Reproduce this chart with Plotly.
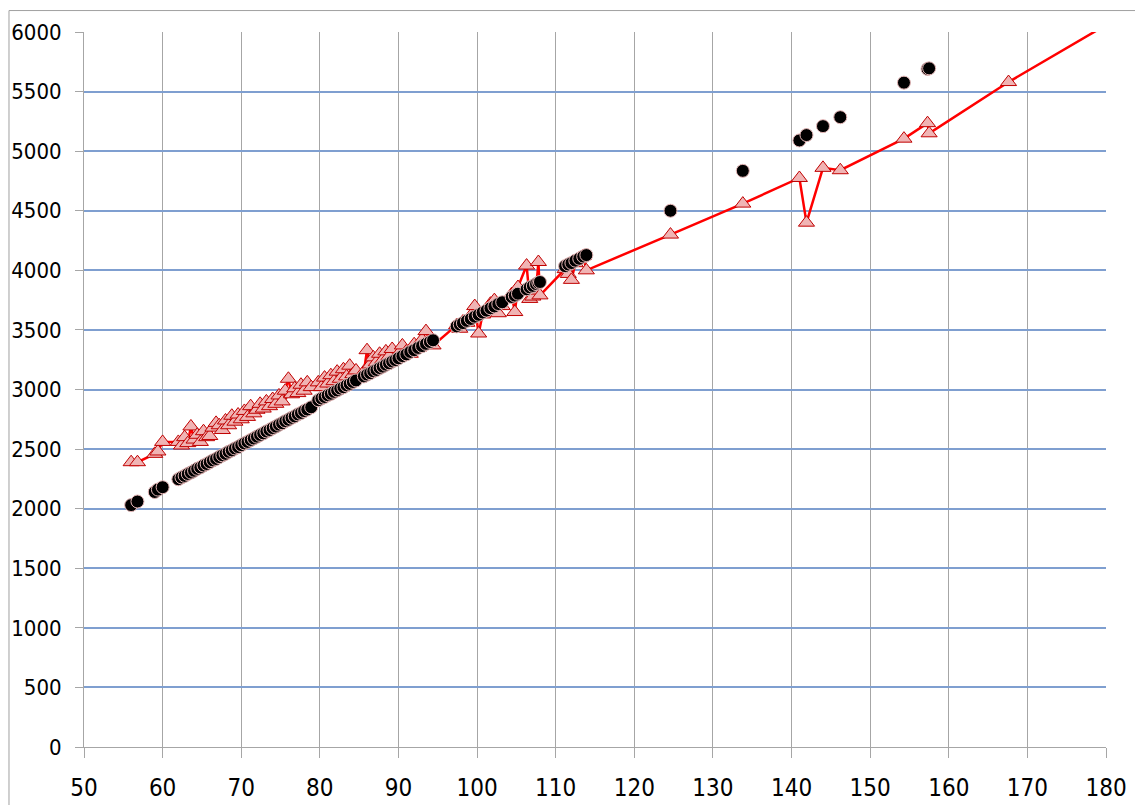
import plotly.graph_objects as go

# Shared x values for both series
x_vals = [
    56.0, 56.8, 59.0, 59.4, 60.0,
    62.0, 62.4, 62.8, 63.2, 63.6, 64.0, 64.4, 64.8, 65.2, 65.6, 66.0, 66.4, 66.8, 67.2, 67.6,
    68.0, 68.4, 68.8, 69.2, 69.6, 70.0, 70.4, 70.8, 71.2, 71.6, 72.0, 72.4, 72.8, 73.2, 73.6,
    74.0, 74.4, 74.8, 75.2, 75.6, 76.0, 76.4, 76.8, 77.2, 77.6, 78.0, 78.4, 78.9,
    79.8, 80.2, 80.6, 81.0, 81.4, 81.8, 82.2, 82.6, 83.0, 83.4, 83.8, 84.2, 84.6,
    85.6, 86.0, 86.4, 86.8, 87.2, 87.6, 88.0, 88.4, 88.8, 89.2, 89.6, 90.0, 90.5, 91.0,
    91.5, 92.0, 92.5, 93.0, 93.5, 94.0, 94.4,
    97.4, 97.8, 98.2, 98.7, 99.2, 99.7, 100.2, 100.7, 101.2, 101.7, 102.2, 102.7, 103.2,
    104.4, 104.8, 105.2, 106.3, 106.7, 107.1, 107.5, 107.8, 108.0,
    111.2, 111.6, 112.0, 112.5, 113.0, 113.5, 113.9,
    124.6, 133.8, 141.0, 141.9, 144.0, 146.2, 154.3, 157.3, 157.5, 167.6, 186.0,
]

# Black circle series
circle_vals = [
    2030, 2060, 2140, 2160, 2180,
    2247, 2262, 2275, 2291, 2303, 2318, 2334, 2346, 2362, 2375, 2390, 2405, 2417, 2433, 2448,
    2460, 2477, 2489, 2505, 2517, 2533, 2548, 2560, 2576, 2589, 2604, 2619, 2632, 2648, 2660,
    2676, 2689, 2705, 2717, 2734, 2746, 2762, 2774, 2791, 2803, 2819, 2832, 2851,
    2910, 2925, 2937, 2952, 2964, 2980, 2992, 3008, 3019, 3035, 3047, 3063, 3076,
    3110, 3125, 3137, 3153, 3164, 3180, 3192, 3208, 3220, 3235, 3247, 3262, 3280, 3295,
    3315, 3330, 3349, 3364, 3383, 3399, 3413,
    3530, 3545, 3557, 3576, 3592, 3611, 3627, 3646, 3662, 3682, 3697, 3717, 3732,
    3776, 3788, 3804, 3841, 3857, 3869, 3885, 3895, 3902,
    4035, 4049, 4061, 4081, 4097, 4116, 4128,
    4500, 4835, 5090, 5135, 5210, 5285, 5575, 5690, 5695, None, None,
]

# Red triangle series (joined by a line)
triangle_vals = [
    2390, 2390, 2460, 2480, 2560,
    2560, 2530, 2600, 2550, 2690, 2580, 2620, 2560, 2650, 2600, 2610, 2680, 2720, 2700, 2660,
    2740, 2700, 2780, 2730, 2790, 2750, 2820, 2770, 2860, 2800, 2830, 2880, 2840, 2900, 2860,
    2920, 2880, 2950, 2900, 2990, 3090, 2960, 3010, 2970, 3040, 2990, 3060, 3020,
    3060, 3020, 3100, 3050, 3120, 3070, 3150, 3090, 3170, 3110, 3200, 3130, 3160,
    3150, 3330, 3210, 3270, 3230, 3300, 3250, 3320, 3280, 3340, 3260, 3300, 3370, 3320,
    3300, 3380, 3350, 3420, 3490, 3400, 3370,
    3540, 3510, 3570, 3560, 3620, 3700, 3470, 3630, 3660, 3720, 3750, 3640, 3700,
    3800, 3650, 3860, 4040, 3760, 3780, 3830, 4070, 3790,
    4010, 3970, 3920, 4060, 4100, 4120, 4000,
    4300, 4560, 4775, 4400, 4860, 4840, 5105, 5235, 5150, 5580, 6290,
]

x_ticks = list(range(50, 181, 10))
y_ticks = list(range(0, 6001, 500))

label_font = "Liberation Sans Narrow, DejaVu Sans Condensed, Arial Narrow, sans-serif"

fig = go.Figure()

fig.add_trace(go.Scatter(
    x=x_vals, y=triangle_vals,
    mode="lines+markers",
    line=dict(color="#ff0000", width=2.5),
    marker=dict(symbol="triangle-up", size=14, color="#f0b4b4",
                line=dict(color="#c00000", width=1)),
    showlegend=False,
))

fig.add_trace(go.Scatter(
    x=x_vals, y=circle_vals,
    mode="markers",
    marker=dict(symbol="circle", size=13, color="#000000",
                line=dict(color="#e6b8b8", width=1)),
    showlegend=False,
))

# Outer chart frame (top and left edges)
frame = dict(color="#a0a0a0", width=1)
fig.add_shape(type="line", xref="paper", yref="paper",
              x0=-0.0734, x1=1.06, y0=1.030, y1=1.030, line=frame)
fig.add_shape(type="line", xref="paper", yref="paper",
              x0=-0.0734, x1=-0.0734, y0=1.030, y1=-0.12, line=frame)

fig.update_layout(
    width=1135, height=805,
    margin=dict(l=84, r=29, t=32, b=58),
    paper_bgcolor="white", plot_bgcolor="white",
    xaxis=dict(
        range=[50, 180], tickvals=x_ticks, ticktext=[str(v) for v in x_ticks],
        showgrid=True, gridcolor="#a6a6a6", gridwidth=1,
        showline=True, linecolor="#a6a6a6", linewidth=1,
        ticks="outside", ticklen=10, tickcolor="#a6a6a6",
        zeroline=False, automargin=False,
        tickfont=dict(family=label_font, size=24, color="black"),
        ticklabelstandoff=9,
    ),
    yaxis=dict(
        range=[0, 6000], tickvals=y_ticks, ticktext=[str(v) for v in y_ticks],
        showgrid=True, gridcolor="#7f9fd0", gridwidth=1.5,
        showline=True, linecolor="#a6a6a6", linewidth=1,
        ticks="outside", ticklen=8, tickcolor="#a6a6a6",
        zeroline=False, automargin=False,
        tickfont=dict(family=label_font, size=22, color="black"),
        ticklabelstandoff=9,
    ),
)

fig.write_html("out.html")
